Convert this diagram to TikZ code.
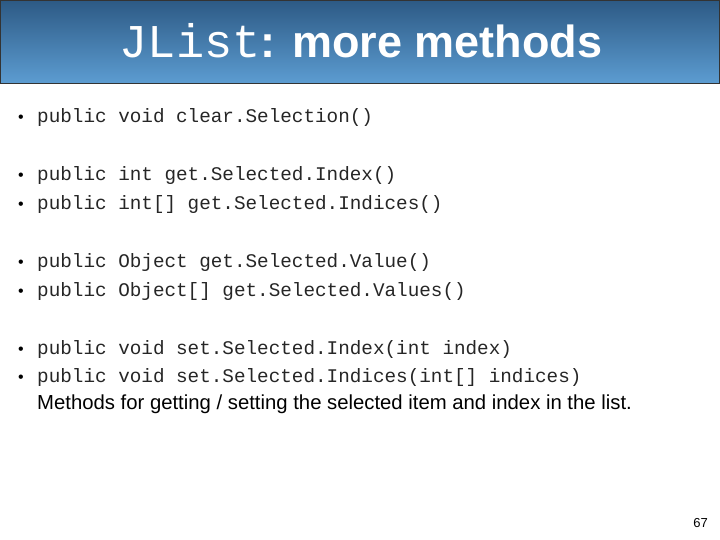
\documentclass[tikz,border=0pt]{standalone}
\usepackage{fontspec}
\setmainfont{Liberation Sans}
\newfontfamily\cour{Liberation Mono}
\definecolor{topblue}{HTML}{2D5A85}
\definecolor{botblue}{HTML}{5C9CD1}
\tikzset{
  code/.style={anchor=base west, inner sep=0pt, font=\cour\fontsize{19.3}{21}\selectfont, text=black!85},
  bul/.style={anchor=base west, inner sep=0pt, font=\fontsize{16}{18}\selectfont},
  plain/.style={anchor=base west, inner sep=0pt, font=\fontsize{20.3}{22}\selectfont}
}
\begin{document}
\begin{tikzpicture}[x=1pt,y=-1pt]
\useasboundingbox (0,0) rectangle (720,540);
\fill[white] (0,0) rectangle (720,540);
\shade[top color=topblue, bottom color=botblue, draw=black!80, line width=0.8pt] (0.5,0.5) rectangle (719.5,83);
\node[anchor=base, inner sep=0pt, text=white] (title) at (361,58) {{\cour\fontsize{47}{50}\selectfont JList}{\bfseries\fontsize{45}{50}\selectfont: more methods}};
\node[bul] (b1) at (18,123) {•};
\node[code] (l1) at (37,123) {public void clear.Selection()};
\node[bul] (b2) at (18,181) {•};
\node[code] (l2) at (37,181) {public int get.Selected.Index()};
\node[bul] (b3) at (18,210) {•};
\node[code] (l3) at (37,210) {public int[] get.Selected.Indices()};
\node[bul] (b4) at (18,267) {•};
\node[code] (l4) at (37,267) {public Object get.Selected.Value()};
\node[bul] (b5) at (18,296) {•};
\node[code] (l5) at (37,296) {public Object[] get.Selected.Values()};
\node[bul] (b6) at (18,354) {•};
\node[code] (l6) at (37,354) {public void set.Selected.Index(int index)};
\node[bul] (b7) at (18,382) {•};
\node[code] (l7) at (37,382) {public void set.Selected.Indices(int[] indices)};
\node[plain] (m) at (37,409) {Methods for getting / setting the selected item and index in the list.};
\node[anchor=base east, inner sep=0pt, font=\fontsize{13}{15}\selectfont] (pg) at (708,527) {67};
\end{tikzpicture}
\end{document}
